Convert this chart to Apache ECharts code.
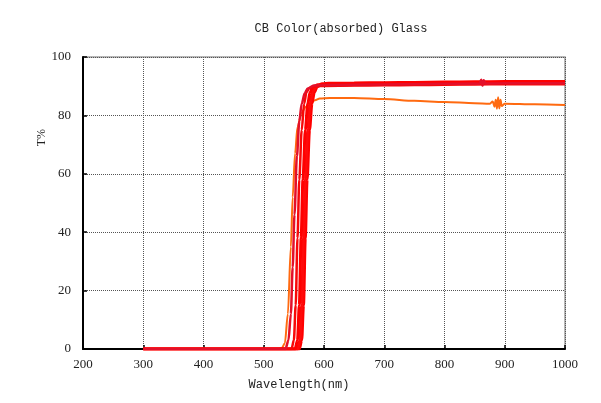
<!DOCTYPE html>
<html><head><meta charset="utf-8">
<script src="https://cdn.jsdelivr.net/npm/echarts@6/dist/echarts.min.js"></script>
<style>html,body{margin:0;padding:0;background:#fff}#c{width:601px;height:403px}</style>
</head><body><div id="c"></div>
<script>
const titleText = 'CB Color(absorbed) Glass';
const xName = 'Wavelength(nm)';
const yName = 'T%';
const xTicks = [200, 300, 400, 500, 600, 700, 800, 900, 1000];
const yTicks = [0, 20, 40, 60, 80, 100];

// orange curve
const wlOrange = [300, 500, 525, 530, 535, 540, 545, 548, 552, 556, 563, 570, 577, 585, 593, 610, 650, 700, 750, 800, 850, 875, 880, 883, 885, 887, 889, 891, 893, 895, 900, 950, 1000];
const tOrange  = [0, 0, 0, 0.3, 2, 12, 35, 52, 67, 76, 81, 83, 84, 85.2, 85.8, 86, 86, 85.6, 85, 84.6, 84.2, 84, 84.8, 83, 85.4, 82.3, 86.2, 82.4, 85.4, 83.2, 84, 83.8, 83.6];

// red curves
const wlRed1 = [300, 500, 536, 541, 545, 548, 551, 555, 559, 563, 568, 573, 583, 600, 650, 700, 750, 800, 850, 858, 861, 863, 865, 868, 900, 950, 1000];
const tRed1  = [0, 0, 0, 3, 12, 28, 46, 66, 78, 84, 87.6, 89.2, 90.2, 90.4, 90.5, 90.6, 90.7, 90.8, 90.9, 90.8, 92.2, 90.2, 92, 90.9, 91, 91, 91];

const wlRed2 = [300, 500, 546, 550, 553, 556, 559, 563, 567, 571, 576, 586, 600, 650, 700, 750, 800, 850, 900, 950, 1000];
const tRed2  = [0, 0, 0, 3, 15, 38, 58, 75, 84, 88, 89.4, 90, 90.1, 90.2, 90.3, 90.4, 90.5, 90.6, 90.7, 90.7, 90.7];

const wlRed3 = [300, 500, 552, 556, 559, 562, 565, 569, 573, 577, 582, 590, 600, 650, 700, 750, 800, 850, 900, 950, 1000];
const tRed3  = [0, 0, 0, 3, 15, 38, 58, 75, 84, 88, 89.8, 90.5, 90.7, 90.8, 90.9, 91, 91.1, 91.2, 91.3, 91.3, 91.3];

const wlRed4 = [300, 500, 556, 560, 563, 566, 569, 573, 577, 581, 586, 594, 605, 650, 700, 750, 800, 850, 900, 950, 1000];
const tRed4  = [0, 0, 0, 3, 15, 38, 58, 75, 84, 88, 89.6, 90.2, 90.4, 90.5, 90.6, 90.7, 90.8, 90.9, 91, 91, 91];

const wlRed5 = [300, 500, 559, 563, 566, 569, 572, 576, 580, 584, 589, 597, 608, 650, 700, 750, 800, 850, 900, 950, 1000];
const tRed5  = [0, 0, 0, 3, 15, 38, 58, 75, 84, 88, 90, 90.8, 91, 91.1, 91.2, 91.3, 91.4, 91.5, 91.6, 91.6, 91.6];

const pairs = (xs, ys) => xs.map((x, i) => [x, ys[i]]);
const mk = (name, xs, ys, color, w) => ({
  name, type: 'line', data: pairs(xs, ys), showSymbol: false, symbol: 'none',
  smooth: 0.3, smoothMonotone: 'x',
  lineStyle: { color, width: w }, itemStyle: { color }, z: 3
});

const chart = echarts.init(document.getElementById('c'), null, { renderer: 'canvas' });
chart.setOption({
  animation: false,
  backgroundColor: '#fff',
  title: {
    text: titleText, left: 336, top: 18, textAlign: 'center',
    textStyle: { fontFamily: 'Liberation Mono', fontSize: 12, fontWeight: 'normal', color: '#222' }
  },
  grid: { left: 83, right: 36, top: 57, bottom: 54, show: true, borderColor: '#a0a0a0', borderWidth: 1.5 },
  xAxis: {
    type: 'value', min: xTicks[0], max: xTicks[xTicks.length - 1], interval: 100,
    name: xName, nameLocation: 'middle', nameGap: 30,
    nameTextStyle: { fontFamily: 'Liberation Mono', fontSize: 12, color: '#222', padding: [0, 50, 0, 0] },
    axisLine: { show: true, onZero: false, lineStyle: { color: '#000', width: 2 } },
    axisTick: { show: true, inside: true, length: 4, lineStyle: { color: '#000', width: 1.5 } },
    axisLabel: { fontFamily: 'Liberation Serif', fontSize: 13, color: '#222', margin: 9, formatter: v => String(v) },
    splitLine: { show: true, lineStyle: { color: '#555', type: 'dotted', width: 1 } }
  },
  yAxis: {
    type: 'value', min: yTicks[0], max: yTicks[yTicks.length - 1], interval: 20,
    axisLine: { show: true, lineStyle: { color: '#000', width: 2 } },
    axisTick: { show: true, inside: true, length: 4, lineStyle: { color: '#000', width: 1.5 } },
    axisLabel: { fontFamily: 'Liberation Serif', fontSize: 13, color: '#222', margin: 12, formatter: v => String(v) },
    splitLine: { show: true, lineStyle: { color: '#555', type: 'dotted', width: 1 } }
  },
  graphic: [{
    type: 'text', left: 36, top: 129, rotation: Math.PI / 2,
    style: { text: yName, font: '12px "Liberation Serif"', fill: '#222' }
  }],
  series: [
    mk('orange', wlOrange, tOrange, '#ff6a10', 2),
    mk('red5', wlRed5, tRed5, '#ff0000', 3),
    mk('red4', wlRed4, tRed4, '#ff0a0a', 3),
    mk('red3', wlRed3, tRed3, '#ff0000', 3),
    mk('red2', wlRed2, tRed2, '#f80808', 2.5),
    mk('red1', wlRed1, tRed1, '#e3102a', 2.5)
  ]
});
</script></body></html>
